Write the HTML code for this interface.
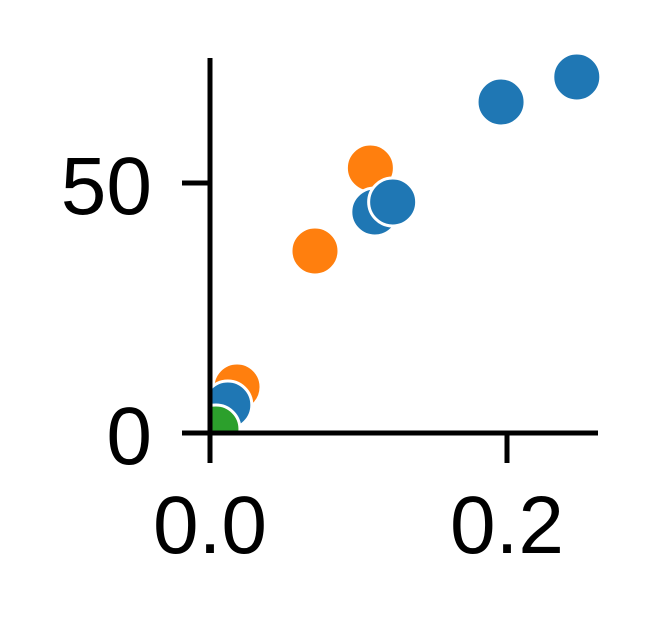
<!DOCTYPE html>
<html><head><meta charset="utf-8"><style>
html,body{margin:0;padding:0;background:#fff;}
svg{display:block;font-family:"Liberation Sans",sans-serif;}
</style></head><body>
<svg width="655" height="627" viewBox="0 0 655 627">
<defs><clipPath id="clip"><rect x="210" y="0" width="445" height="433"/></clipPath></defs>
<g id="points" clip-path="url(#clip)"></g>
<g id="axes"></g>
</svg>
<script>
const seriesNames=["orange","blue","green"];
const blueX=[0.247,0.196,0.111,0.123,0.008,0.012];
const blueY=[71.2,66.2,44.2,46.2,4.2,5.6];
const orangeX=[0.108,0.0707,0.0182];
const orangeY=[53,36.4,9.2];
const greenX=[0.004];
const greenY=[0.8];
const xTicks=[0.0,0.2];
const xTickLabels=["0.0","0.2"];
const yTicks=[0,50];
const yTickLabels=["0","50"];
const NS="http://www.w3.org/2000/svg";
const sx=v=>210+v*1485;
const sy=v=>433-v*5;
const pts=document.getElementById('points');
const axes=document.getElementById('axes');
function el(t,a,p){const e=document.createElementNS(NS,t);for(const k in a)e.setAttribute(k,a[k]);p.appendChild(e);return e;}
function draw(xs,ys,color,name){
  xs.forEach((x,i)=>{
    const c=el('circle',{cx:sx(x),cy:sy(ys[i]),r:24,fill:color,stroke:'#fff','stroke-width':3},pts);
    
    
  });
}
draw(orangeX,orangeY,'#ff7f0e','orange');
draw(blueX,blueY,'#1f77b4','blue');
draw(greenX,greenY,'#2ca02c','green');
const ya=el('line',{x1:210,y1:58,x2:210,y2:435,stroke:'#000','stroke-width':5},axes);


const xa=el('line',{x1:208,y1:433,x2:598,y2:433,stroke:'#000','stroke-width':5},axes);


yTicks.forEach((v,i)=>{
  const t=el('line',{x1:182,y1:sy(v),x2:210,y2:sy(v),stroke:'#000','stroke-width':5},axes);
  
  
  const l=el('text',{x:152,y:sy(v)+31,'text-anchor':'end','font-size':82,fill:'#000'},axes);
  l.textContent=yTickLabels[i];
  
  
});
xTicks.forEach((v,i)=>{
  const t=el('line',{x1:sx(v),y1:433,x2:sx(v),y2:463,stroke:'#000','stroke-width':5},axes);
  
  
  const l=el('text',{x:sx(v),y:553,'text-anchor':'middle','font-size':82,fill:'#000'},axes);
  l.textContent=xTickLabels[i];
  
  
});
</script>
</body></html>
